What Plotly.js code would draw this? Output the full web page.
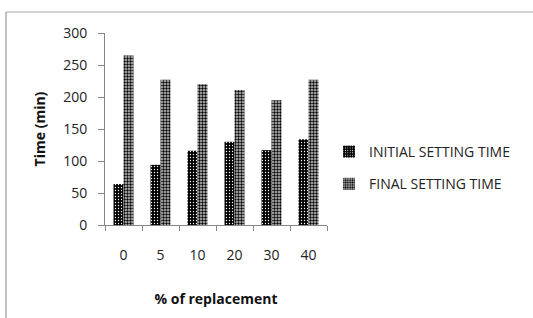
<!DOCTYPE html>
<html>
<head>
<meta charset="utf-8">
<script src="https://cdn.plot.ly/plotly-3.0.1.min.js"></script>
<style>html,body{margin:0;padding:0;background:#fff;}#chart{width:533px;height:318px;}</style>
</head>
<body>
<div id="chart"></div>
<script>
const categories = ["0", "5", "10", "20", "30", "40"];
const initialSetting = [64, 94, 116, 130, 117, 134];
const finalSetting = [265, 227, 220, 211, 195, 227];
const seriesNames = ["INITIAL SETTING TIME", "FINAL SETTING TIME"];
const yTicks = [0, 50, 100, 150, 200, 250, 300];

const FONT = "'Open Sans', sans-serif";
const L = 105, R = 206, T = 33, B = 93, W = 533, H = 318;
const pw = W - L - R, ph = H - T - B;
const px = x => (x - L) / pw;
const py = y => (H - B - y) / ph;

const traces = [
  {
    type: "bar", x: categories, y: initialSetting, name: seriesNames[0], legendgroup: "a",
    marker: {color: "#000", line: {width: 0},
      pattern: {shape: ".", fgcolor: "#fff", bgcolor: "#000", size: 3, solidity: 0.15}}
  },
  {
    type: "bar", x: categories, y: finalSetting, name: seriesNames[1], legendgroup: "b",
    marker: {color: "#000", line: {width: 0},
      pattern: {shape: ".", fgcolor: "#000", bgcolor: "#c8c8c8", size: 3, solidity: 0.5}}
  }
];

const layout = {
  width: W, height: H,
  margin: {l: L, r: R, t: T, b: B, pad: 0},
  paper_bgcolor: "#fff", plot_bgcolor: "#fff",
  font: {family: FONT, size: 13, color: "#222"},
  barmode: "group", bargap: 0.46, bargroupgap: 0,
  showlegend: true,
  legend: {x: px(329), xanchor: "left", y: py(136), yanchor: "top",
    font: {family: FONT, size: 14, color: "#222"}, itemwidth: 30, tracegroupgap: 11,
    traceorder: "grouped", bgcolor: "rgba(0,0,0,0)"},
  xaxis: {
    type: "category", showline: true, linecolor: "#868686", linewidth: 1,
    ticks: "outside", tickson: "boundaries", ticklen: 5, tickcolor: "#868686",
    showgrid: false, zeroline: false, ticklabelstandoff: 17,
    tickfont: {family: FONT, size: 14, color: "#222"},
    title: {text: "<b>% of replacement</b>", font: {family: FONT, size: 14, color: "#111"}, standoff: 31}
  },
  yaxis: {
    range: [0, 300], tickvals: yTicks, showline: true, linecolor: "#868686", linewidth: 1,
    ticks: "outside", ticklen: 6, tickcolor: "#868686", showgrid: false, zeroline: false,
    ticklabelstandoff: 8,
    tickfont: {family: FONT, size: 14, color: "#222"},
    title: {text: "<b>Time (min)</b>", font: {family: FONT, size: 14, color: "#111"}, standoff: 14}
  },
  shapes: [
    {type: "line", xref: "paper", yref: "paper", x0: px(6), x1: px(540), y0: py(12), y1: py(12),
      line: {color: "#a6a6a6", width: 1}},
    {type: "line", xref: "paper", yref: "paper", x0: px(6), x1: px(6), y0: py(12), y1: py(330),
      line: {color: "#868686", width: 1}}
  ]
};

Plotly.newPlot("chart", traces, layout, {displayModeBar: false, staticPlot: true});
</script>
</body>
</html>
